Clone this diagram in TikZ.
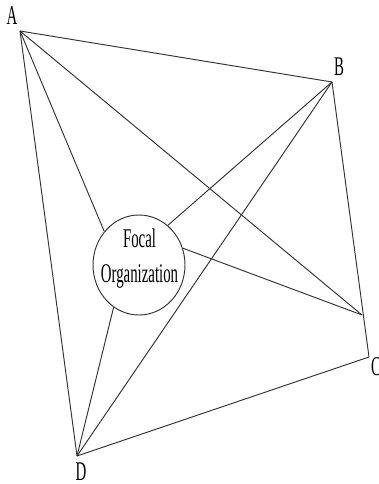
\documentclass[tikz,border=0pt]{standalone}
\usepackage{fontspec}
\setmainfont[FakeStretch=0.55]{Liberation Serif}
\usetikzlibrary{shapes.geometric}

\tikzset{
	edge/.style={line width=0.95pt, black!80},
	lbl/.style={font=\fontsize{27}{35}\selectfont, inner sep=0pt}
}

\begin{document}
\begin{tikzpicture}[x=1pt,y=-1pt]
		\useasboundingbox (0,0) rectangle (379,484);

		\coordinate (A) at (20,31);
		\coordinate (B) at (332,82);
		\coordinate (P) at (362,315);
		\coordinate (C) at (369,357);
		\coordinate (D) at (77,456);

		\node[lbl, anchor=base] (labA) at (12,25) {A};
		\node[lbl, anchor=base] (labB) at (339,76) {B};
		\node[lbl, anchor=base west] (labC) at (371,375) {C};
		\node[lbl, anchor=base] (labD) at (81,480) {D};

		\node[ellipse, draw, edge, minimum width=92pt, minimum height=100pt] (focal) at (139,265) {};
		\node[lbl, align=center] (focaltext) at (139.5,258.3) {Focal\\Organization};

		\draw[edge] (A) -- (B);
		\draw[edge] (A) -- (P);
		\draw[edge] (A) -- (focal.136);
		\draw[edge] (A) -- (D);

		\draw[edge] (B) -- (focal.54);
		\draw[edge] (B) -- (D);
		\draw[edge] (B) -- (C);

		\draw[edge] (focal.21) -- (P);
		\draw[edge] (focal.239) -- (D);

		\draw[edge] (D) -- (C);
	\end{tikzpicture}
\end{document}
